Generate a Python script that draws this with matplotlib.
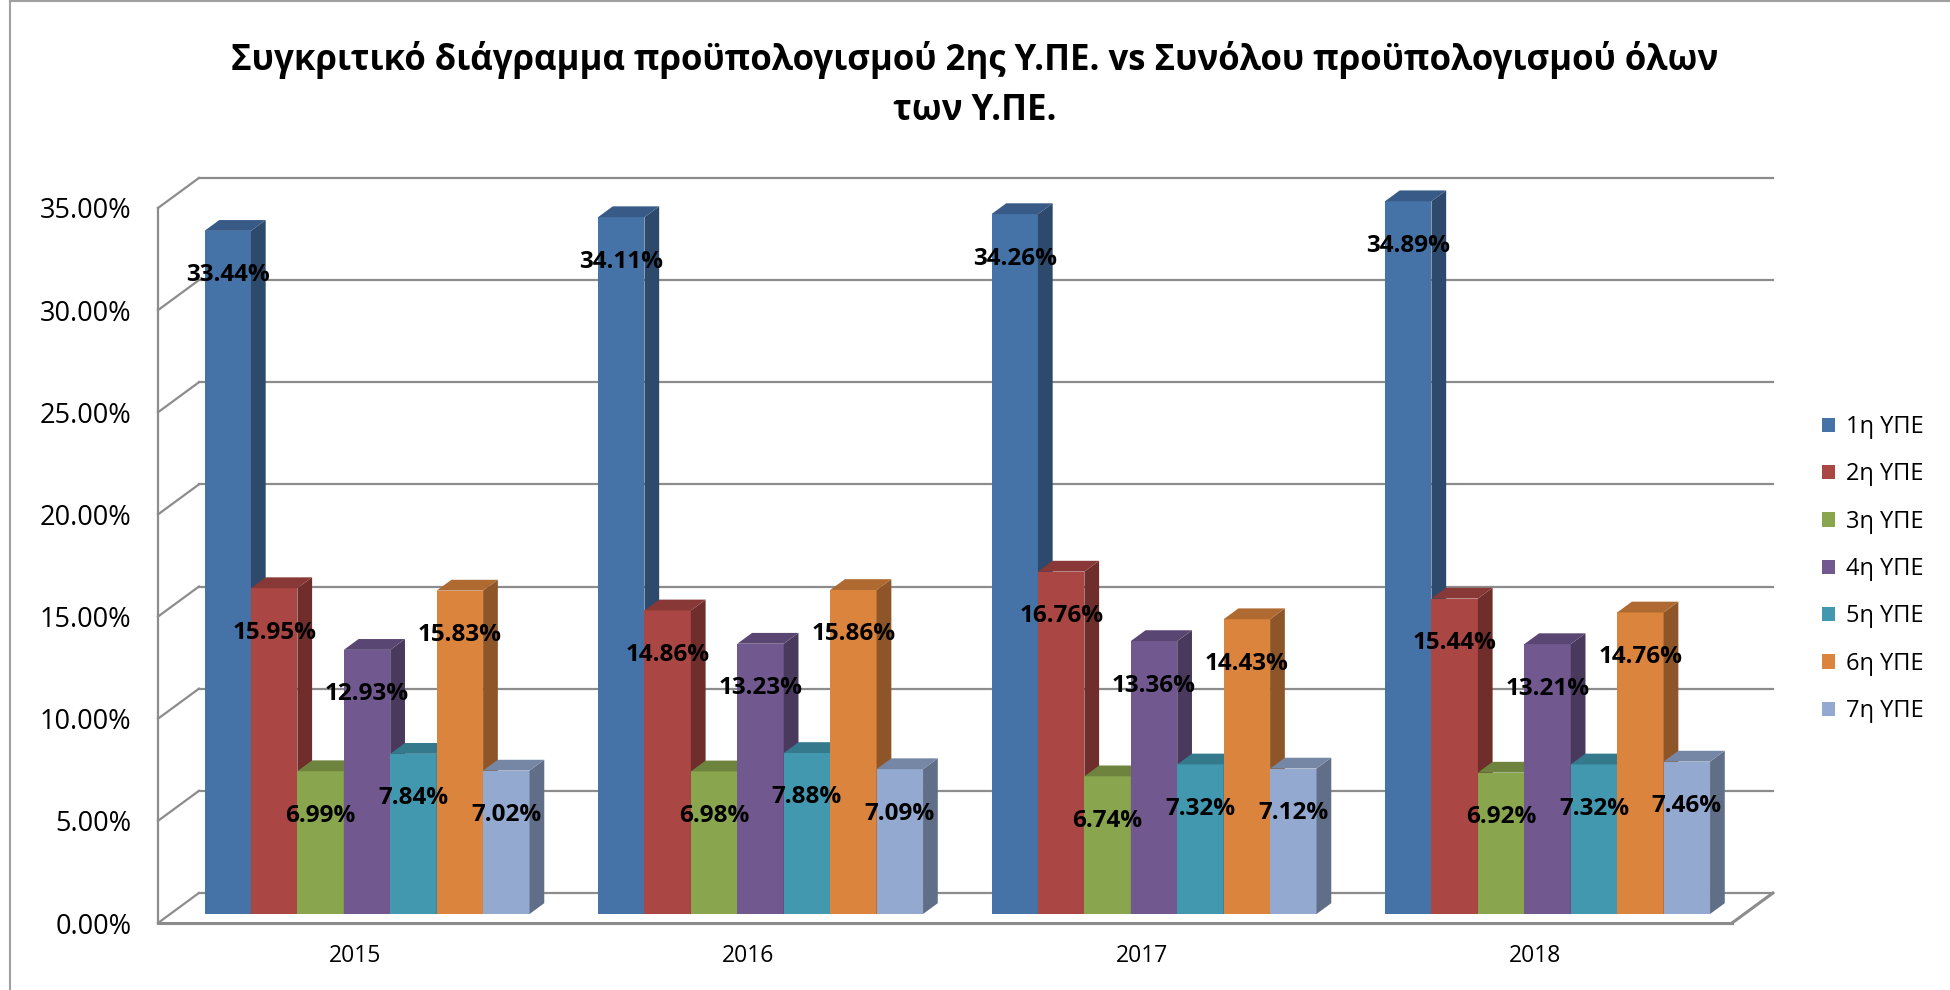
import numpy as np
import matplotlib.pyplot as plt
from matplotlib.patches import Polygon
from matplotlib.colors import to_rgb

# data (share of total budget, %)
years = ['2015', '2016', '2017', '2018']
regions = ['1η ΥΠΕ', '2η ΥΠΕ', '3η ΥΠΕ', '4η ΥΠΕ', '5η ΥΠΕ', '6η ΥΠΕ', '7η ΥΠΕ']
ype1 = [33.44, 34.11, 34.26, 34.89]
ype2 = [15.95, 14.86, 16.76, 15.44]
ype3 = [6.99, 6.98, 6.74, 6.92]
ype4 = [12.93, 13.23, 13.36, 13.21]
ype5 = [7.84, 7.88, 7.32, 7.32]
ype6 = [15.83, 15.86, 14.43, 14.76]
ype7 = [7.02, 7.09, 7.12, 7.46]
series = [ype1, ype2, ype3, ype4, ype5, ype6, ype7]
yticks = [0, 5, 10, 15, 20, 25, 30, 35]

colors = ['#4572A7', '#AA4643', '#89A54E', '#71588F', '#4198AF', '#DB843D', '#93A9CF']
title = ('Συγκριτικό διάγραμμα προϋπολογισμού 2ης Υ.ΠΕ. vs Συνόλου προϋπολογισμού όλων\n'
         'των Υ.ΠΕ.')

plt.rcParams['font.family'] = ['Open Sans', 'DejaVu Sans']

# fake 3d: depth offset of the back wall in data units
DX = 0.104
DY = 1.47
Z0 = 0.30   # depth of bar front faces
ZD = 0.36   # depth of bars
w = 0.118   # bar width
grid_col = '#8C8C8C'

fig = plt.figure(figsize=(19.5, 9.9), dpi=100)
ax = fig.add_axes([158 / 1950, 67 / 990, 1574 / 1950, 715 / 990])
ax.set_xlim(0, 4)
ax.set_ylim(0, 35)
for s in ax.spines.values():
    s.set_visible(False)

# walls / grid
n = len(years)
for t in yticks:
    ax.plot([DX, n + DX], [t + DY, t + DY], color=grid_col, lw=1.6, zorder=1, clip_on=False)
    ax.plot([0, DX], [t, t + DY], color=grid_col, lw=1.6, zorder=1, clip_on=False)
ax.plot([0, 0], [0, yticks[-1]], color=grid_col, lw=1.6, zorder=1, clip_on=False)
ax.plot([0, n], [0, 0], color=grid_col, lw=2.2, zorder=1, clip_on=False)
ax.plot([n, n + DX], [0, DY], color=grid_col, lw=2.2, zorder=1, clip_on=False)

handles = []
xs = np.arange(n)
for j, vals in enumerate(series):
    vals = np.array(vals)
    x = xs + 0.5 - 3.5 * w + j * w + Z0 * DX
    base = Z0 * DY
    c = np.array(to_rgb(colors[j]))
    bars = ax.bar(x, vals, width=w, bottom=base, align='edge', color=c,
                  zorder=3 + j, clip_on=False, label=regions[j])
    handles.append(bars)
    for xi, v in zip(x, vals):
        top = v + base
        ddx, ddy = ZD * DX, ZD * DY
        side = Polygon([(xi + w, base), (xi + w, top), (xi + w + ddx, top + ddy),
                        (xi + w + ddx, base + ddy)], closed=True,
                       facecolor=c * 0.65, edgecolor='none', zorder=3 + j, clip_on=False)
        cap = Polygon([(xi, top), (xi + w, top), (xi + w + ddx, top + ddy),
                       (xi + ddx, top + ddy)], closed=True,
                      facecolor=c * 0.8, edgecolor='none', zorder=3 + j, clip_on=False)
        ax.add_patch(side)
        ax.add_patch(cap)
        ax.annotate(f'{v:.2f}%', xy=(xi + w / 2, top), xytext=(0, -32),
                    textcoords='offset points', ha='center', va='center',
                    fontsize=17.5, fontweight='bold', color='black', zorder=20,
                    annotation_clip=False)

ax.set_yticks(yticks)
ax.set_yticklabels([f'{t:.2f}%' for t in yticks], fontsize=19.5)
ax.set_xticks(xs + 0.5)
ax.set_xticklabels(years, fontsize=16.5)
ax.tick_params(axis='y', length=0, pad=19)
ax.tick_params(axis='x', length=0, pad=15)

fig.text(0.5, 1 - 85 / 990, title, ha='center', va='center', fontsize=25,
         fontweight='bold', linespacing=1.5)

fig.legend(handles=handles, labels=regions, loc='upper left',
           bbox_to_anchor=(1822 / 1950, 1 - 415 / 990), frameon=False, fontsize=17,
           handlelength=0.55, handleheight=0.55, handletextpad=0.45,
           labelspacing=0.99, borderpad=0, borderaxespad=0)

# outer chart frame
fig.add_artist(plt.Line2D([10 / 1950, 10 / 1950], [0, 1 - 1 / 990], color='#A0A0A0', lw=1.5))
fig.add_artist(plt.Line2D([10 / 1950, 1], [1 - 1 / 990, 1 - 1 / 990], color='#A0A0A0', lw=1.5))

fig.savefig('out.png', dpi=100)
